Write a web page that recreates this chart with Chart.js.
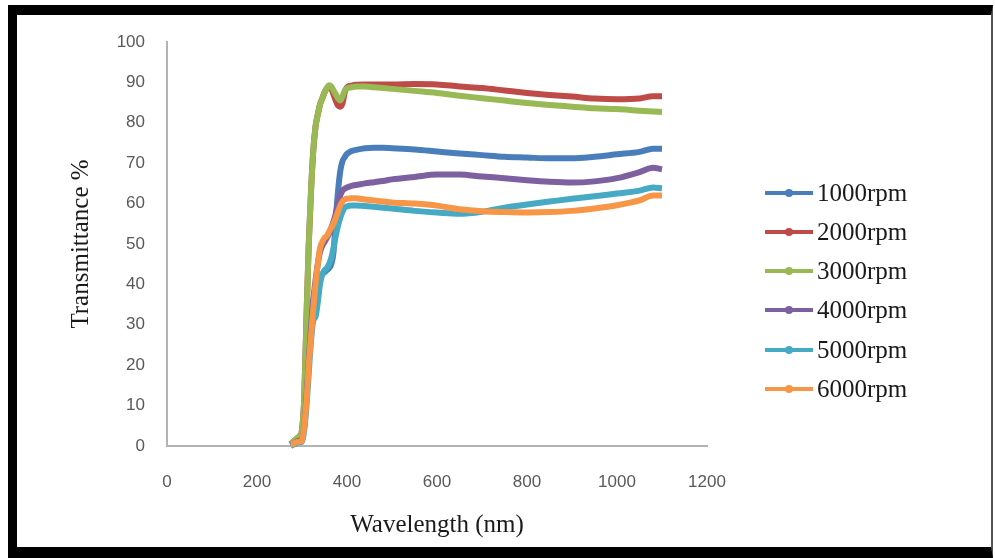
<!DOCTYPE html>
<html>
<head>
<meta charset="utf-8">
<script src="https://cdn.jsdelivr.net/npm/chart.js@4"></script>
<style>
html,body{margin:0;padding:0;background:#fff;}
#frame{position:absolute;left:8px;top:5px;width:974px;height:532px;border-left:9px solid #000;border-top:10px solid #000;border-bottom:11px solid #000;border-right:2px solid #555;background:#fff;}
#c{position:absolute;left:0;top:0;}
#legend{position:absolute;left:0;top:0;width:974px;height:532px;pointer-events:none;}
.item{position:absolute;left:748px;height:30px;display:flex;align-items:center;}
.swatch{position:relative;width:48px;height:4px;margin-right:4px;}
.swatch::after{content:"";position:absolute;left:20px;top:-2px;width:8px;height:8px;border-radius:50%;background:inherit;}
.txt{font-family:"Liberation Serif","DejaVu Serif",serif;font-size:25px;color:#1a1a1a;line-height:30px;}
</style>
</head>
<body>
<div id="frame">
  <canvas id="c" width="974" height="532"></canvas>
  <div id="legend"></div>
</div>
<script>
// ---- data ----
const wavelengths = [275,280,285,290,295,300,305,310,315,320,325,330,335,340,345,350,355,360,365,370,375,380,385,390,395,400,410,420,440,460,480,500,550,600,650,700,750,800,850,900,950,1000,1050,1080,1100];
const seriesLabels = ['1000rpm','2000rpm','3000rpm','4000rpm','5000rpm','6000rpm'];
const rpm1000 = [0.3,0.5,0.8,1.2,1.5,2,6,14,24,31,36,39,41,42,42.5,43,43.5,44,45,48,56,63,68,70.5,71.5,72.3,73,73.3,73.7,73.8,73.8,73.7,73.4,72.9,72.4,72,71.6,71.4,71.2,71.2,71.6,72.2,72.8,73.6,73.6];
const rpm2000 = [0.5,1,1.5,2,2.5,4,12,32,50,63,73,79,82,84.5,86,87.5,88.5,89,88.5,87,85.5,84.3,84,84.8,87.5,88.8,89.2,89.4,89.5,89.5,89.5,89.5,89.6,89.5,89,88.6,88,87.4,86.9,86.5,86,85.8,86,86.6,86.6];
const rpm3000 = [0.5,1,1.5,2,2.5,4,12,32,50,63,73,79,82,84.5,86,87.5,88.5,89.3,89,88,87,86,85.5,86.5,88,88.5,88.8,89,89,88.8,88.6,88.4,87.9,87.4,86.7,86.1,85.5,84.9,84.4,84,83.6,83.4,83,82.8,82.7];
const rpm4000 = [0.3,0.5,0.8,1.2,1.3,1.5,5,12,21,29,36,41,45,48,49.5,50.5,51.5,52.5,54,55.5,57.5,60,62,63.2,63.7,64,64.4,64.6,65,65.3,65.6,66,66.6,67.2,67.2,66.7,66.3,65.8,65.4,65.2,65.5,66.3,67.8,68.9,68.5];
const rpm5000 = [0,0.3,0.5,0.8,0.9,1,4,10,18,26,31,32,35.5,40,42.5,43.5,44,45,46.5,49,52,54.5,56.5,58,59,59.3,59.5,59.5,59.4,59.2,59,58.8,58.2,57.8,57.5,58,59,59.8,60.5,61.2,61.8,62.5,63.2,64,63.8];
const rpm6000 = [0.5,0.5,0.8,1,1.1,1.2,5,11,20,27,34,40,45,49,50.5,51.5,52,53,54,55,56.5,58,59.5,60.5,61,61.2,61.3,61.3,61,60.8,60.5,60.3,60,59.5,58.6,58.1,57.9,57.8,57.9,58.2,58.8,59.6,60.8,62,62];
const seriesValues = [rpm1000, rpm2000, rpm3000, rpm4000, rpm5000, rpm6000];
const seriesColors = ['#4a7ebb','#be4b48','#98b954','#7d60a0','#46aac5','#f79646'];
const xTicks = [0,200,400,600,800,1000,1200];
const yTicks = [0,10,20,30,40,50,60,70,80,90,100];

const datasets = seriesLabels.map((lab, i) => ({
  label: lab,
  data: wavelengths.map((w, j) => ({x: w, y: seriesValues[i][j]})),
  borderColor: seriesColors[i],
  backgroundColor: seriesColors[i],
  borderWidth: 6,
  pointRadius: 0,
  cubicInterpolationMode: 'monotone',
  clip: 10,
  order: seriesLabels.length - i
}));

const tickFont = {family: '"Liberation Sans", Arial, sans-serif', size: 17};
const titleFont = {family: '"Liberation Serif", "Times New Roman", serif', size: 25};

const chart = new Chart(document.getElementById('c'), {
  type: 'line',
  data: {datasets},
  options: {
    responsive: false,
    animation: false,
    layout: {padding: {top: 27, right: 284, left: 0, bottom: 0}},
    plugins: {legend: {display: false}, tooltip: {enabled: false}},
    scales: {
      x: {
        type: 'linear', min: 0, max: 1200,
        afterBuildTicks: s => { s.ticks = xTicks.map(v => ({value: v})); },
        afterFit: s => { s.height = 101; },
        grid: {display: false, drawTicks: false},
        border: {display: true, color: '#b3b3b3', width: 2},
        ticks: {font: tickFont, color: '#595959', padding: 26, maxRotation: 0, callback: v => String(v)},
        title: {display: true, text: 'Wavelength (nm)', font: titleFont, color: '#1a1a1a', padding: {top: 0, bottom: 7}}
      },
      y: {
        type: 'linear', min: 0, max: 100,
        afterBuildTicks: s => { s.ticks = yTicks.map(v => ({value: v})); },
        afterFit: s => { s.width = 150; s.paddingTop = 10; s.paddingBottom = 10; },
        grid: {display: false, drawTicks: false},
        border: {display: true, color: '#b3b3b3', width: 2},
        ticks: {font: tickFont, color: '#595959', padding: 22, callback: v => String(v)},
        title: {display: true, text: 'Transmittance %', font: titleFont, color: '#1a1a1a', padding: {top: 49, bottom: 0}}
      }
    }
  }
});

// HTML legend built from the chart's datasets
const leg = document.getElementById('legend');
chart.data.datasets.forEach((ds, i) => {
  const it = document.createElement('div');
  it.className = 'item';
  it.style.top = (177.7 + i * 39.2 - 15) + 'px';
  const sw = document.createElement('span');
  sw.className = 'swatch';
  sw.style.background = ds.borderColor;
  const tx = document.createElement('span');
  tx.className = 'txt';
  tx.textContent = ds.label;
  it.appendChild(sw); it.appendChild(tx);
  leg.appendChild(it);
});
</script>
</body>
</html>
